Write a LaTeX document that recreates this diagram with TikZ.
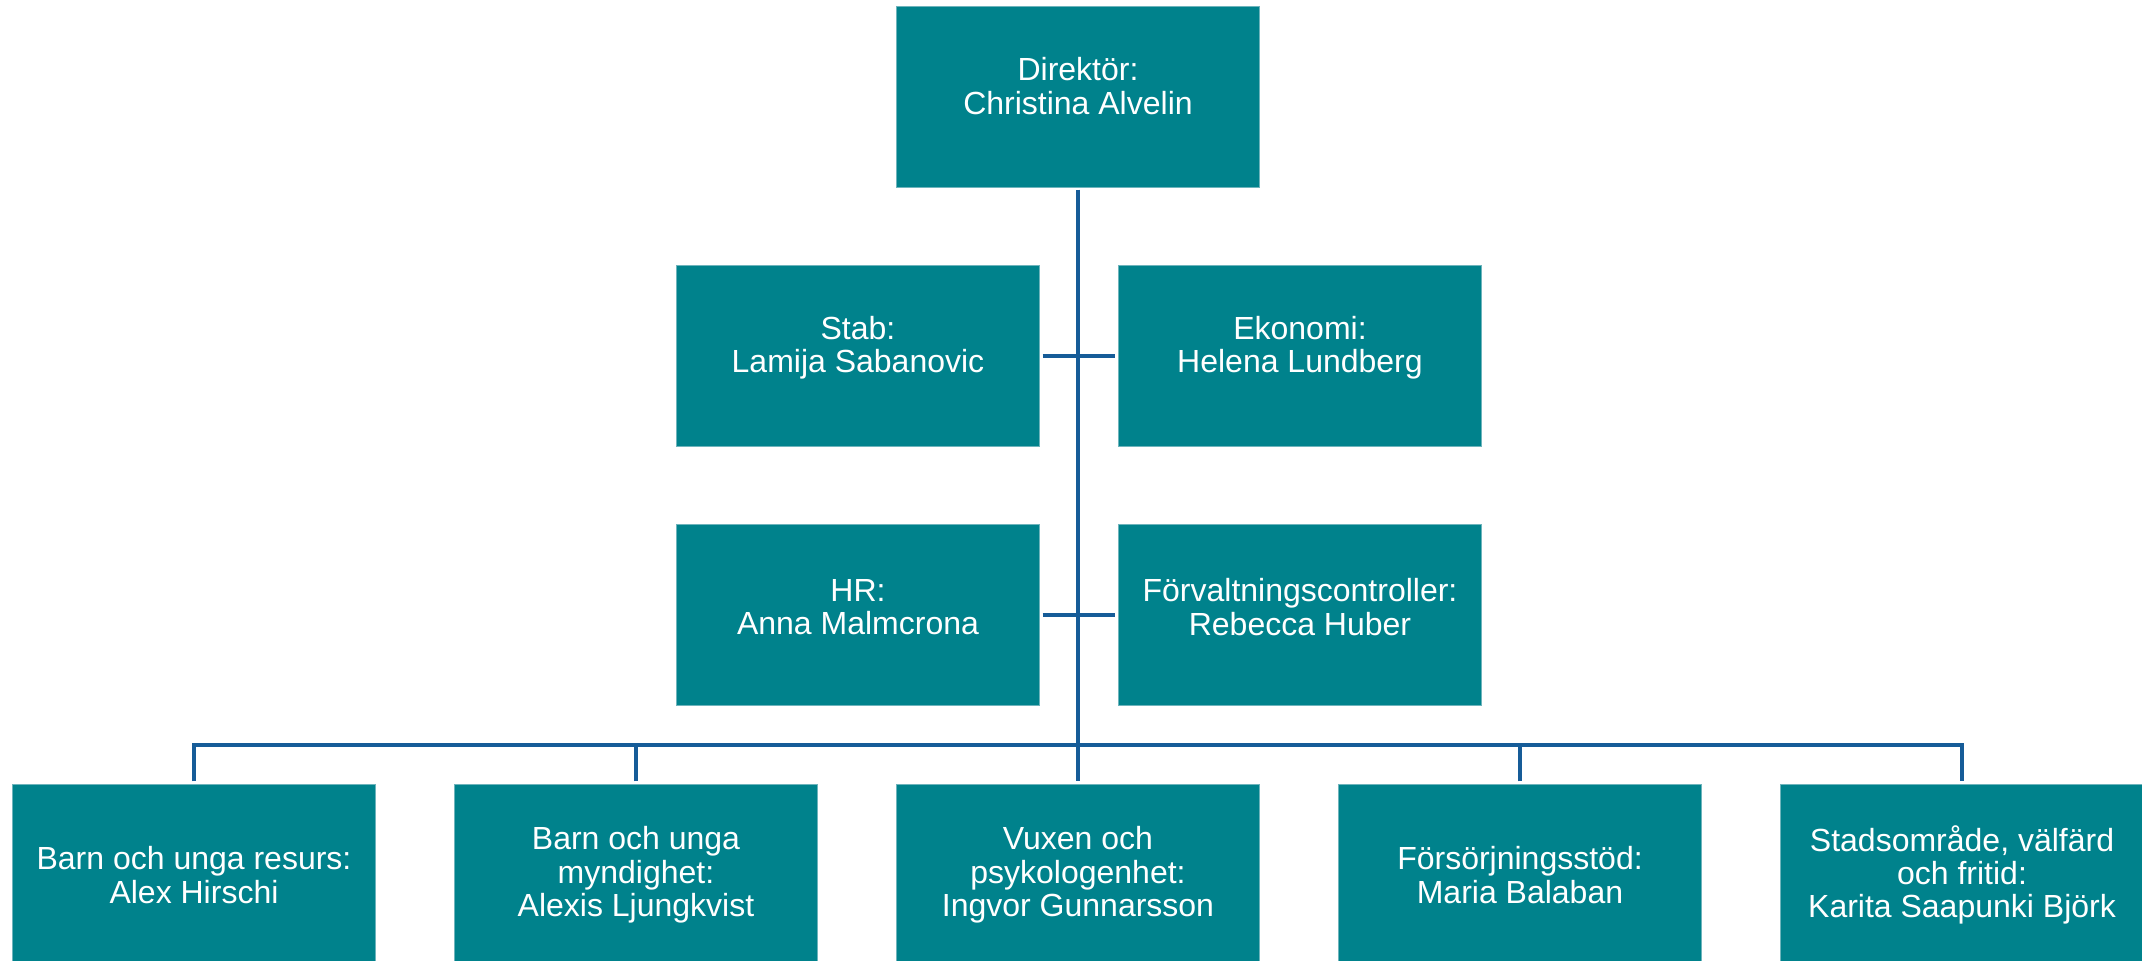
\documentclass[tikz,border=0pt]{standalone}
\usepackage{fontspec}
\setmainfont{Liberation Sans}
\definecolor{boxteal}{RGB}{0,130,140}
\definecolor{boxedge}{RGB}{110,180,188}
\definecolor{linkblue}{RGB}{22,92,152}
\tikzset{
  orgbox/.style={rectangle, fill=boxteal, draw=boxedge, line width=0.3pt,
    minimum width=3.62cm, minimum height=1.8cm, inner sep=0pt},
  orgtext/.style={text=white, align=center, inner sep=0pt,
    font=\fontsize{9.1pt}{9.5pt}\selectfont},
  link/.style={draw=linkblue, line width=0.9pt}
}
\begin{document}
\begin{tikzpicture}[x=0.01cm, y=-0.01cm]
\useasboundingbox (0,0) rectangle (2142,961);
% boxes
\node[orgbox] (dir)  at (1078,97)  {};
\node[orgbox] (stab) at (858,356)  {};
\node[orgbox] (eko)  at (1300,356) {};
\node[orgbox] (hr)   at (858,615)  {};
\node[orgbox] (forv) at (1300,615) {};
\node[orgbox] (b1) at (194,875)  {};
\node[orgbox] (b2) at (636,875)  {};
\node[orgbox] (b3) at (1078,875) {};
\node[orgbox] (b4) at (1520,875) {};
\node[orgbox] (b5) at (1962,875) {};
% texts
\node[orgtext] (tdir)  at ([yshift=0.11cm]dir.center)  {Direktör:\\Christina Alvelin};
\node[orgtext] (tstab) at ([yshift=0.08cm]stab.center) {Stab:\\Lamija Sabanovic};
\node[orgtext] (teko)  at ([yshift=0.08cm]eko.center)  {Ekonomi:\\Helena Lundberg};
\node[orgtext] (thr)   at ([yshift=0.08cm]hr.center)   {HR:\\Anna Malmcrona};
\node[orgtext] (tforv) at ([yshift=0.08cm]forv.center) {Förvaltningscontroller:\\Rebecca Huber};
\node[orgtext] (tb1) at (b1.center) {Barn och unga resurs:\\Alex Hirschi};
\node[orgtext] (tb2) at (b2.center) {Barn och unga\\myndighet:\\Alexis Ljungkvist};
\node[orgtext] (tb3) at (b3.center) {Vuxen och\\psykologenhet:\\Ingvor Gunnarsson};
\node[orgtext] (tb4) at (b4.center) {Försörjningsstöd:\\Maria Balaban};
\node[orgtext] (tb5) at (b5.center) {Stadsområde, välfärd\\och fritid:\\Karita Saapunki Björk};
% connectors
\coordinate (bus) at (1079,745);
\path[link] ([yshift=-0.02cm]dir.south) -- ([yshift=0.03cm]b3.north);
\path[link] ([xshift=0.03cm]stab.east) -- ([xshift=-0.03cm]eko.west);
\path[link] ([xshift=0.03cm]hr.east) -- ([xshift=-0.03cm]forv.west);
\path[link] ([yshift=0.03cm]b1.north) |- (bus) -| ([yshift=0.03cm]b5.north);
\path[link] ([yshift=0.03cm]b2.north) -- (b2.north |- bus);
\path[link] ([yshift=0.03cm]b4.north) -- (b4.north |- bus);
\end{tikzpicture}
\end{document}
